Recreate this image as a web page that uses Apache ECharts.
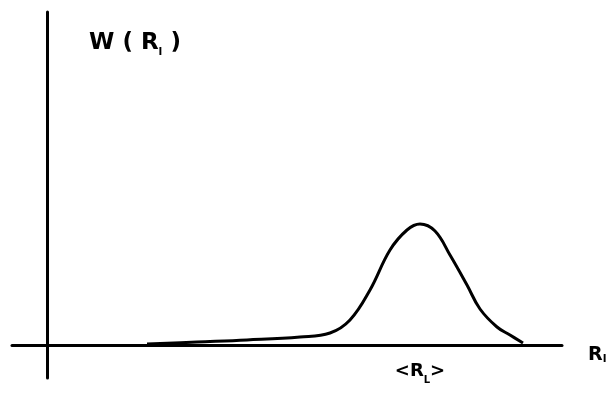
<!DOCTYPE html>
<html><head><meta charset="utf-8">
<script src="https://cdn.jsdelivr.net/npm/echarts@6/dist/echarts.min.js"></script>
<style>html,body{margin:0;padding:0;background:#fff}#c{width:613px;height:396px}</style>
</head><body><div id="c"></div>
<script>
// curve (arbitrary units along R_l and W)
const rValues = [10, 15, 20, 25.3, 28.3, 30.3, 32.3, 34.3, 36, 37.3, 38.8, 40.3, 42, 43.3, 45, 46.3, 47.6];
const wValues = [0.1, 0.3, 0.5, 0.8, 1.2, 2.5, 5.5, 9.5, 11.5, 12.1, 11.4, 9.0, 6.0, 3.6, 1.8, 1.0, 0.2];
const meanR = 37.3;
const meanLabel = ['<R', 'L', '>'];
const yLabel = ['W ( R', 'l', ' )'];
const xLabel = ['R', 'l'];

const chart = echarts.init(document.getElementById('c'));
const data = rValues.map((r, i) => [r, wValues[i]]);
chart.setOption({
  animation: false,
  grid: {left: 12, right: 51, top: 12, height: 366, containLabel: false, outerBoundsMode: 'none'},
  xAxis: {
    type: 'value', min: -3.5, max: 51.5,
    axisLine: {onZero: true, lineStyle: {color: '#000', width: 3}},
    axisTick: {show: false}, splitLine: {show: false}, axisLabel: {show: false},
    name: '{a|' + xLabel[0] + '}{s|' + xLabel[1] + '}', nameLocation: 'end', nameGap: 26,
    nameTextStyle: {
      rich: {
        a: {fontFamily: 'DejaVu Sans', fontWeight: 'bold', fontSize: 19, color: '#000', padding: [20, 0, 0, 0]},
        s: {fontFamily: 'DejaVu Sans', fontWeight: 'bold', fontSize: 11, color: '#000', padding: [28, 0, 0, 0]}
      }
    }
  },
  yAxis: {
    type: 'value', min: -3.3, max: 33.3,
    axisLine: {onZero: true, lineStyle: {color: '#000', width: 3}},
    axisTick: {show: false}, splitLine: {show: false}, axisLabel: {show: false}
  },
  graphic: [{
    type: 'text', left: 89, top: 32,
    style: {
      text: '{a|' + yLabel[0] + '}{s|' + yLabel[1] + '}{a|' + yLabel[2] + '}',
      rich: {
        a: {fontFamily: 'DejaVu Sans', fontWeight: 'bold', fontSize: 23, fill: '#000'},
        s: {fontFamily: 'DejaVu Sans', fontWeight: 'bold', fontSize: 11, fill: '#000', padding: [18, 0, 0, 0]}
      }
    }
  }],
  series: [{
    type: 'line', data: data, smooth: 0.4, symbol: 'none',
    lineStyle: {color: '#000', width: 3},
    markPoint: {
      symbol: 'circle', symbolSize: 0, silent: true,
      data: [{coord: [meanR, 0]}],
      label: {
        show: true, position: 'inside', offset: [0, 26],
        formatter: () => '{a|' + meanLabel[0] + '}{s|' + meanLabel[1] + '}{a|' + meanLabel[2] + '}',
        rich: {
          a: {fontFamily: 'DejaVu Sans', fontWeight: 'bold', fontSize: 18, color: '#000'},
          s: {fontFamily: 'DejaVu Sans', fontWeight: 'bold', fontSize: 10, color: '#000', padding: [18, 0, 0, 0]}
        }
      }
    }
  }]
});
</script></body></html>
